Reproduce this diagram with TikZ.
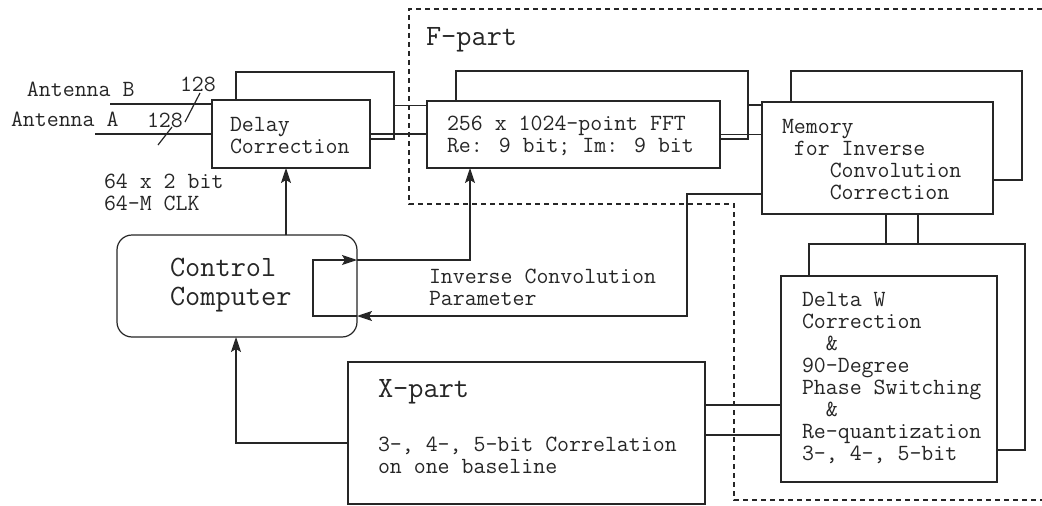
\documentclass[tikz,border=0pt]{standalone}
\usepackage{fontspec}
\usetikzlibrary{arrows.meta,calc}
\begin{document}
\begin{tikzpicture}[x=1pt,y=-1pt,
  ln/.style={draw=black!85,line width=1.2pt},
  box/.style={ln,fill=white,inner sep=0pt,outer sep=0pt},
  backbox/.style={ln,inner sep=0pt,outer sep=0pt},
  arr/.style={ln,-{Stealth[length=15pt,width=10pt,inset=3pt]}},
  region/.style={draw=black!85,line width=1.2pt,dash pattern=on 5pt off 4pt},
  txt/.style={inner sep=0pt,outer sep=0pt,align=left,text=black!85,
    font=\ttfamily\fontsize{23.2}{22}\selectfont},
  bigtxt/.style={inner sep=0pt,outer sep=0pt,align=left,text=black!85,
    font=\ttfamily\fontsize{29.5}{29}\selectfont}]
\useasboundingbox (0,0) rectangle (1042,506);

% F-part region
\coordinate (r1) at (1042,9);
\coordinate (r2) at (409,9);
\coordinate (r3) at (409,204);
\coordinate (r4) at (734,204);
\coordinate (r5) at (734,500);
\coordinate (r6) at (1042,500);
\draw[region] (r1) -- (r2) -- (r3) -- (r4) -- (r5) -- (r6);

% back boxes
\node[backbox,minimum width=158,minimum height=67] (delayB) at (315,105.5) {};
\node[backbox,minimum width=292,minimum height=68] (fftB) at (602,105) {};
\node[backbox,minimum width=231,minimum height=109] (memB) at (906.5,125.5) {};
\node[backbox,minimum width=216,minimum height=206] (dwB) at (917,347) {};

% front boxes
\node[box,minimum width=158,minimum height=68] (delay) at (291,134) {};
\node[box,minimum width=293,minimum height=67] (fft) at (573.5,134.5) {};
\node[box,minimum width=231,minimum height=112] (mem) at (877.5,158) {};
\node[box,minimum width=216,minimum height=206] (dw) at (889,379) {};
\node[box,minimum width=357,minimum height=142] (xpart) at (526.5,433) {};
\node[box,rounded corners=15,minimum width=240,minimum height=102] (cc) at (237,286) {};

% antenna inputs
\coordinate (antB) at (110,104);
\coordinate (antA) at (95,134);
\draw[ln] (antB) -- (antB -| delay.west);
\draw[ln] (antA) -- (antA -| delay.west);
\draw[ln] (185,122) -- (200,93);
\draw[ln] (158,145) -- (172,127);

% data path
\draw[ln] (delayB.east) -- (delayB.east -| fft.west);
\draw[ln] (delay.east) -- (delay.east -| fft.west);
\draw[ln] (fftB.east) -- (fftB.east -| mem.west);
\draw[ln] (fft.east) -- (fft.east -| mem.west);
\coordinate (m1) at (886,0);
\coordinate (m2) at (918,0);
\draw[ln] (mem.south -| m1) -- (dwB.north -| m1);
\draw[ln] (mem.south -| m2) -- (dwB.north -| m2);
\coordinate (xd1) at (0,405);
\coordinate (xd2) at (0,435);
\draw[ln] (xpart.east |- xd1) -- (dw.west |- xd1);
\draw[ln] (xpart.east |- xd2) -- (dw.west |- xd2);

% control connections
\coordinate (cd) at (286,0);
\draw[arr] (cc.north -| cd) -- (delay.south -| cd);
\coordinate (xc) at (236,443);
\draw[arr] (xpart.west |- xc) -- (xc) -- (cc.south -| xc);
\coordinate (mc1) at (687,194);
\coordinate (mc2) at (687,316);
\draw[arr] (mem.west |- mc1) -- (mc1) -- (mc2) -- (cc.east |- mc2);
\coordinate (il1) at (313,316);
\coordinate (il2) at (313,260);
\draw[arr] (cc.east |- il1) -- (il1) -- (il2) -- (cc.east |- il2);
\coordinate (cf) at (470,260);
\draw[arr] (cc.east |- cf) -- (cf) -- (fft.south -| cf);

% texts
\node[txt,anchor=west] (tAntB) at (27,89) {Antenna B};
\node[txt,anchor=west] (tAntA) at (11,119) {Antenna A};
\node[txt,anchor=west] (tB128) at (180,84) {128};
\node[txt,anchor=west] (tA128) at (147,120) {128};
\node[txt,anchor=west] (tDelay) at (230,136) {Delay\\Correction};
\node[txt,anchor=west] (tClk) at (104,192.5) {64 x 2 bit\\64-M CLK};
\node[bigtxt,anchor=west] (tF) at (426,40) {F-part};
\node[txt,anchor=west] (tFFT) at (447,136) {256 x 1024-point FFT\\Re: 9 bit; Im: 9 bit};
\node[txt,anchor=west] (tMem) at (782,160) {Memory\\\phantom{x}for Inverse\\\phantom{xxxx}Convolution\\\phantom{xxxx}Correction};
\node[bigtxt,anchor=west] (tCC) at (170,285) {Control\\Computer};
\node[txt,anchor=west] (tICP) at (429,287) {Inverse Convolution\\Parameter};
\node[bigtxt,anchor=west] (tX) at (378,392) {X-part};
\node[txt,anchor=west] (tXcor) at (378,455.5) {3-, 4-, 5-bit Correlation\\on one baseline};
\node[txt,anchor=west] (tDW) at (802,378.5) {Delta W\\Correction\\\phantom{xx}\&\\90-Degree\\Phase Switching\\\phantom{xx}\&\\Re-quantization\\3-, 4-, 5-bit};
\end{tikzpicture}
\end{document}
